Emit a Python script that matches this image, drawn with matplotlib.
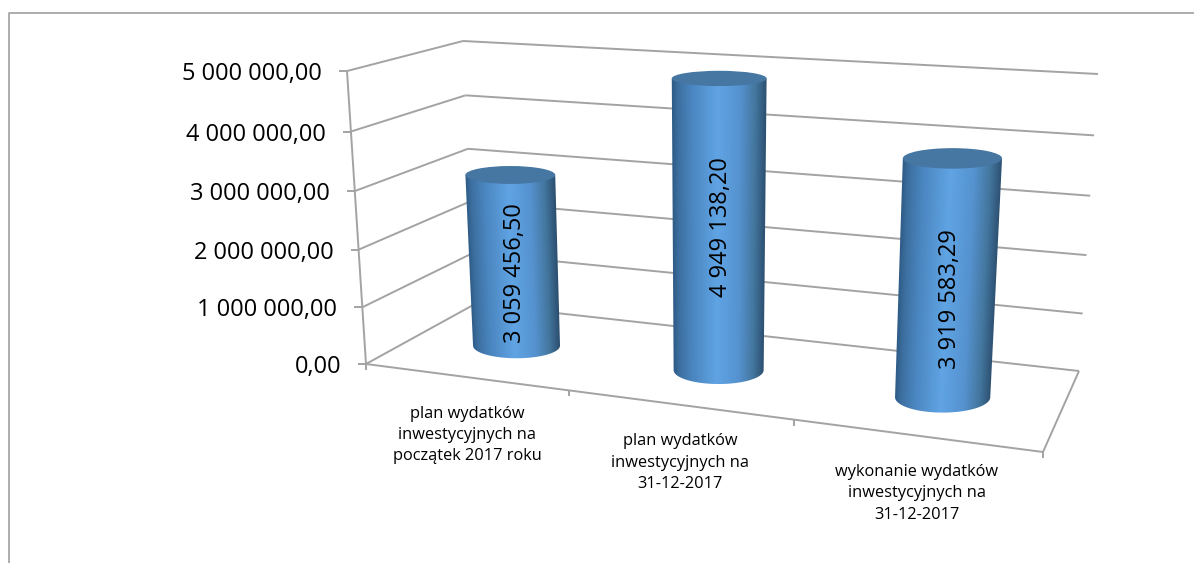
import numpy as np
import matplotlib
matplotlib.use('Agg')
import matplotlib.pyplot as plt
from matplotlib.colors import LinearSegmentedColormap
from matplotlib.patches import Ellipse, Polygon

categories = ['plan wydatków\ninwestycyjnych na\npoczątek 2017 roku',
              'plan wydatków\ninwestycyjnych na\n31-12-2017',
              'wykonanie wydatków\ninwestycyjnych na\n31-12-2017']
values = [3059456.50, 4949138.20, 3919583.29]
value_labels = ['3 059 456,50', '4 949 138,20', '3 919 583,29']
axis_ticks = [0, 1000000, 2000000, 3000000, 4000000, 5000000]
axis_labels = ['0,00', '1 000 000,00', '2 000 000,00', '3 000 000,00',
               '4 000 000,00', '5 000 000,00']
axis_max = 5000000

# box corners on screen
front_left = np.array([366.0, 364.0])
front_right = np.array([1043.0, 452.0])
back_left = np.array([475.0, 304.0])
back_right = np.array([1079.0, 371.0])
top_front_left = np.array([347.0, 71.0])
top_front_right = np.array([1062.0, 121.0])
top_back_left = np.array([463.0, 41.0])
top_back_right = np.array([1098.0, 74.0])

# foreshortening along the category axis and up the value axis
PERSP = 0.857
VPERSP = 0.96

# cylinder sizes in box units, and how far each label sits under the middle
bar_ru = [0.0754, 0.0706, 0.0672]
RV = 0.2
label_dy = [13, 3, 21]

GRID = '#a3a3a3'
plt.rcParams['font.family'] = ['Open Sans', 'DejaVu Sans']


def project(u, v, val):
    """u along the categories, v into the depth, val on the value axis"""
    s = PERSP * u / (1 + (PERSP - 1) * u)
    w = val / axis_max
    w = VPERSP * w / (1 + (VPERSP - 1) * w)
    low = (front_left + (front_right - front_left) * s) * (1 - v) \
        + (back_left + (back_right - back_left) * s) * v
    high = (top_front_left + (top_front_right - top_front_left) * s) * (1 - v) \
        + (top_back_left + (top_back_right - top_back_left) * s) * v
    return low + (high - low) * w


fig = plt.figure(figsize=(11.94, 5.63), dpi=100)
ax = fig.add_axes([0, 0, 1, 1])
ax.set_xlim(0, 1194)
ax.set_ylim(563, 0)
ax.axis('off')

# chart frame, the right and bottom sides are cut off in the picture
ax.plot([8.5, 8.5, 1194], [563, 12.5, 12.5], color='#a0a0a0', lw=1.2)


def line(p, q, lw=1.4):
    ax.plot([p[0], q[0]], [p[1], q[1]], color=GRID, lw=lw, zorder=1,
            solid_capstyle='butt')


# gridlines on the two walls
for t in axis_ticks:
    fl = project(0, 0, t)
    bl = project(0, 1, t)
    br = project(1, 1, t)
    line(fl, bl)
    line(bl, br)
    line((fl[0] - 8, fl[1]), fl)

# axis and floor edges
line(project(0, 0, 0), project(0, 0, axis_max))
line(project(0, 0, 0), project(1, 0, 0))
line(project(1, 0, 0), project(1, 1, 0))
for i in range(len(categories) + 1):
    p = project(i / len(categories), 0, 0)
    line(p, (p[0], p[1] + 6))

for t, lab in zip(axis_ticks, axis_labels):
    p = project(0, 0, t)
    ax.text(p[0] - 25, p[1] + 3, lab, ha='right', va='center', fontsize=17,
            color='black')

body_cmap = LinearSegmentedColormap.from_list(
    'body', [(0.0, '#2f5c87'), (0.06, '#3c6f9f'), (0.2, '#4a85bf'),
             (0.48, '#60a4e4'), (0.72, '#5592cf'), (0.88, '#44779f'),
             (1.0, '#2c4f70')])

for i, val in enumerate(values):
    u = (i + 0.5) / len(categories) + 0.004
    v = 0.5
    ru = bar_ru[i]
    cb = project(u, v, 0)
    ct = project(u, v, val)
    # half width and half depth of the disc at both ends
    ab = abs(project(u + ru, v, 0)[0] - project(u - ru, v, 0)[0]) / 2
    at = abs(project(u + ru, v, val)[0] - project(u - ru, v, val)[0]) / 2
    db = abs(project(u, v + RV, 0)[1] - project(u, v - RV, 0)[1]) / 2
    dt = abs(project(u, v + RV, val)[1] - project(u, v - RV, val)[1]) / 2

    t = np.linspace(0, np.pi, 80)
    outline = np.vstack([
        np.column_stack([cb[0] - ab * np.cos(t), cb[1] + db * np.sin(t)]),
        [(ct[0] + at, ct[1]), (ct[0] - at, ct[1])]])

    # gradient across the body, following the lean of the sides
    x0, x1 = outline[:, 0].min() - 2, outline[:, 0].max() + 2
    y0, y1 = ct[1] - 2, cb[1] + db + 2
    xs, ys = np.meshgrid(np.linspace(x0, x1, 240), np.linspace(y0, y1, 240))
    k = (ys - ct[1]) / (cb[1] - ct[1])
    left = (ct[0] - at) + ((cb[0] - ab) - (ct[0] - at)) * k
    right = (ct[0] + at) + ((cb[0] + ab) - (ct[0] + at)) * k
    frac = np.clip((xs - left) / (right - left), 0, 1)
    img = ax.imshow(frac, cmap=body_cmap, vmin=0, vmax=1, aspect='auto',
                    extent=(x0, x1, y1, y0), interpolation='bilinear', zorder=3)
    shape = Polygon(outline, closed=True, transform=ax.transData)
    img.set_clip_path(shape)

    ax.add_patch(Ellipse(ct, 2 * at, 2 * dt, facecolor='#4676a2',
                         edgecolor='none', zorder=4))
    mid = (cb + ct) / 2
    ax.text(mid[0] + 2, mid[1] + label_dy[i], value_labels[i], rotation=90,
            ha='center', va='center', fontsize=17, color='black', zorder=5)

    c = project((i + 0.5) / len(categories), 0, 0)
    ax.text(c[0] + 2, c[1] + 58, categories[i], ha='center', va='center',
            fontsize=11.8, color='black', linespacing=1.43)

ax.set_xlim(0, 1194)
ax.set_ylim(563, 0)
fig.savefig('out.png', dpi=100)
